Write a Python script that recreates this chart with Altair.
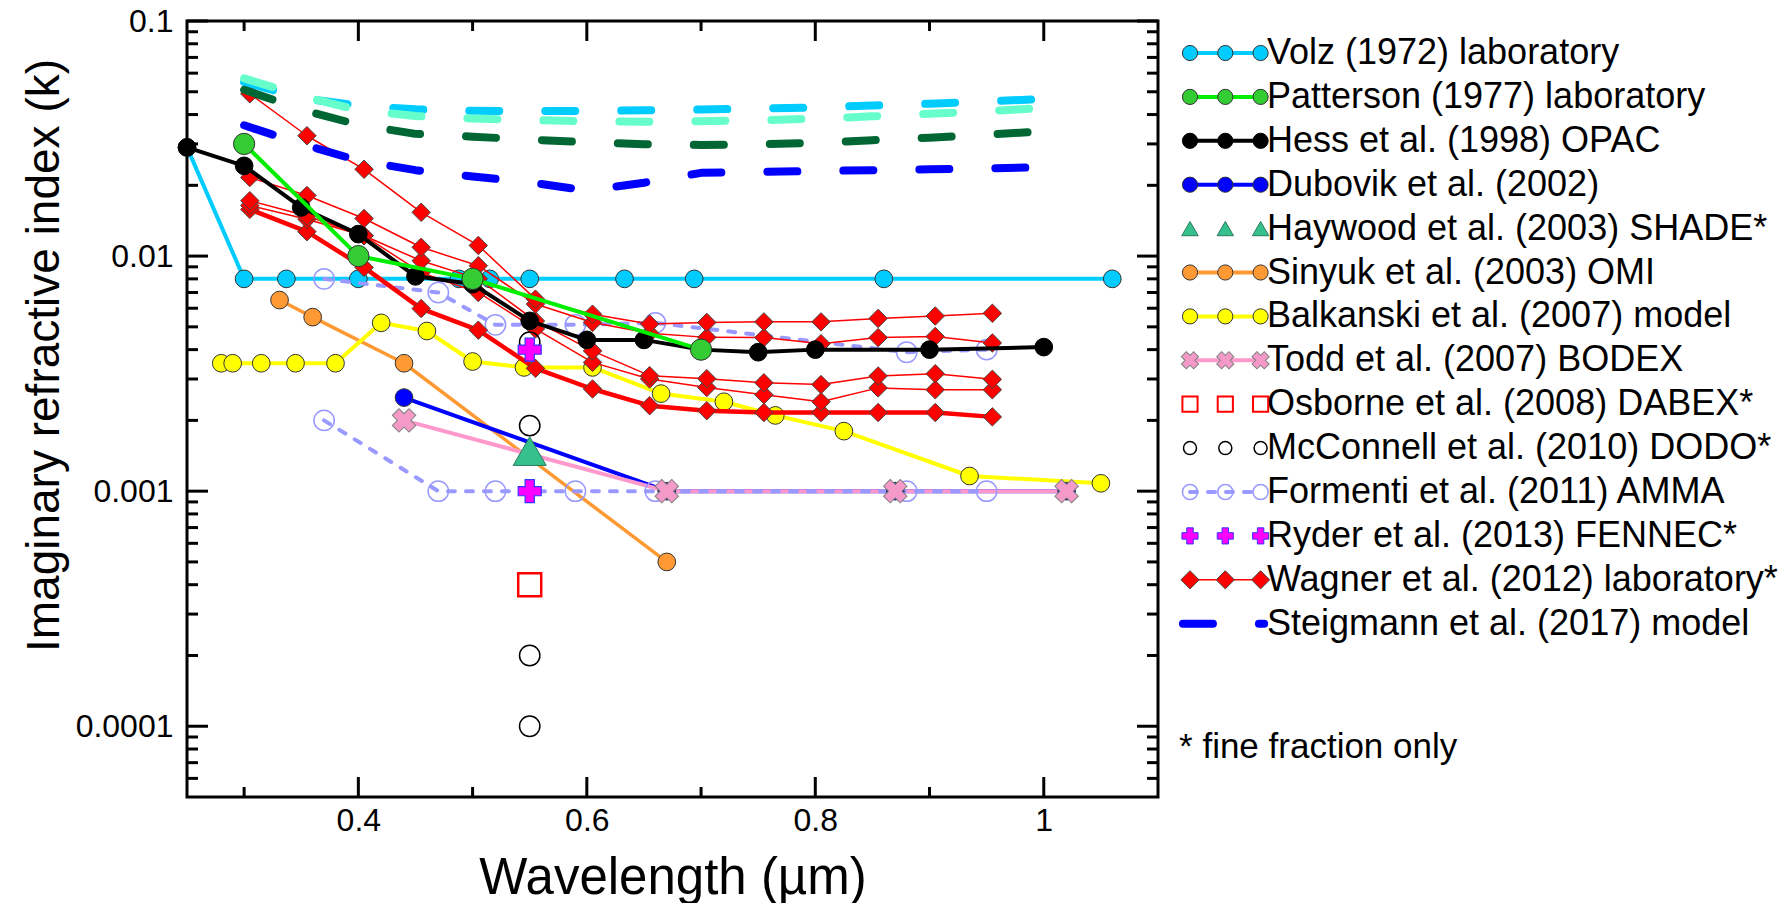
import altair as alt
import pandas as pd

# ------------------------------------------------------------------
# Values (wavelength in µm, k)
# ------------------------------------------------------------------
volz_w = [0.25, 0.30, 0.337, 0.40, 0.488, 0.515, 0.55, 0.633, 0.694, 0.86, 1.06]
volz_k = [0.029, 0.008, 0.008, 0.008, 0.008, 0.008, 0.008, 0.008, 0.008, 0.008, 0.008]

patterson_w = [0.30, 0.40, 0.50, 0.70]
patterson_k = [0.030, 0.0100, 0.0080, 0.0040]

hess_w = [0.25, 0.30, 0.35, 0.40, 0.45, 0.50, 0.55, 0.60, 0.65, 0.70, 0.75, 0.80, 0.90, 1.00]
hess_k = [0.029, 0.0242, 0.0161, 0.0124, 0.0082, 0.0076, 0.0053, 0.0044, 0.0044,
          0.0040, 0.0039, 0.0040, 0.0040, 0.0041]

dubovik_w = [0.44, 0.67, 0.87, 1.02]
dubovik_k = [0.0025, 0.0010, 0.0010, 0.0010]

haywood_w = [0.55]
haywood_k = [0.00148]

sinyuk_w = [0.331, 0.36, 0.44, 0.67]
sinyuk_k = [0.0065, 0.0055, 0.0035, 0.0005]

balkanski_w = [0.28, 0.29, 0.315, 0.345, 0.38, 0.42, 0.46, 0.50, 0.545, 0.605,
               0.665, 0.72, 0.765, 0.825, 0.935, 1.05]
balkanski_k = [0.0035, 0.0035, 0.0035, 0.0035, 0.0035, 0.0052, 0.0048, 0.00356, 0.00336,
               0.00336, 0.0026, 0.0024, 0.0021, 0.0018, 0.00116, 0.00108]

todd_w = [0.44, 0.67, 0.87, 1.02]
todd_k = [0.0020, 0.0010, 0.0010, 0.0010]

osborne_w = [0.55]
osborne_k = [0.0004]

mcconnell_w = [0.55, 0.55, 0.55, 0.55]
mcconnell_k = [0.0043, 0.0019, 0.0002, 0.0001]

formenti_w = [0.37, 0.47, 0.52, 0.59, 0.66, 0.88, 0.95]
formenti_upper_k = [0.0080, 0.0070, 0.0051, 0.0051, 0.0052, 0.0039, 0.0040]
formenti_lower_k = [0.0020, 0.0010, 0.0010, 0.0010, 0.0010, 0.0010, 0.0010]

ryder_w = [0.55, 0.55]
ryder_k = [0.0040, 0.0010]

wagner_w = [0.305, 0.355, 0.405, 0.455, 0.505, 0.555, 0.605, 0.655, 0.705,
            0.755, 0.805, 0.855, 0.905, 0.955]
wagner_1_k = [0.049, 0.0325, 0.0234, 0.01535, 0.0111, 0.00656, 0.00566, 0.00514, 0.00522,
              0.00525, 0.00525, 0.00543, 0.00556, 0.00571]
wagner_2_k = [0.0216, 0.0181, 0.01445, 0.0109, 0.0091, 0.00625, 0.00522, 0.0047, 0.00451,
              0.0045, 0.00424, 0.0045, 0.00455, 0.00427]
wagner_3_k = [0.0172, 0.0148, 0.0122, 0.00955, 0.0080, 0.0053, 0.00395, 0.0031, 0.00301,
              0.00289, 0.00284, 0.00309, 0.00316, 0.00299]
wagner_4_k = [0.0164, 0.01435, 0.0122, 0.0085, 0.0070, 0.0049, 0.00353, 0.0030, 0.00276,
              0.00257, 0.0024, 0.00275, 0.0027, 0.0027]
wagner_5_k = [0.0158, 0.0127, 0.00895, 0.00598, 0.00484, 0.00333, 0.00272, 0.00231, 0.0022,
              0.00216, 0.00216, 0.00216, 0.00216, 0.00207]

steigmann_w = [0.30, 0.35, 0.40, 0.45, 0.50, 0.55, 0.60, 0.65, 0.70, 0.75, 0.80, 0.85,
               0.90, 0.95, 1.00]
steigmann_a_k = [0.055, 0.047, 0.0436, 0.0421, 0.0415, 0.0414, 0.0414, 0.0417, 0.0420,
                 0.0424, 0.0429, 0.0437, 0.0445, 0.0455, 0.0466]
steigmann_b_k = [0.057, 0.048, 0.0418, 0.0394, 0.0385, 0.0379, 0.0375, 0.0373, 0.0375,
                 0.0378, 0.0384, 0.0393, 0.0403, 0.0414, 0.0426]
steigmann_c_k = [0.051, 0.042, 0.0362, 0.0331, 0.0322, 0.0313, 0.0305, 0.0299, 0.0297,
                 0.0299, 0.0303, 0.0311, 0.0319, 0.0328, 0.0340]
steigmann_d_k = [0.036, 0.030, 0.0255, 0.0232, 0.0218, 0.0206, 0.0190, 0.0205, 0.0226,
                 0.0228, 0.0230, 0.0232, 0.0234, 0.0236, 0.0239]

x_tick_major = [0.4, 0.6, 0.8, 1.0]
x_tick_minor = [0.3, 0.5, 0.7, 0.9]
y_tick_major = [1e-4, 1e-3, 1e-2, 1e-1]
y_tick_minor = [m * 10.0 ** e for e in (-5, -4, -3, -2) for m in range(2, 10)
                if 5e-5 < m * 10.0 ** e < 0.1]

legend_labels = [
    "Volz (1972) laboratory",
    "Patterson (1977) laboratory",
    "Hess et al. (1998) OPAC",
    "Dubovik et al. (2002)",
    "Haywood et al. (2003) SHADE*",
    "Sinyuk et al. (2003) OMI",
    "Balkanski et al. (2007) model",
    "Todd et al. (2007) BODEX",
    "Osborne et al. (2008) DABEX*",
    "McConnell et al. (2010) DODO*",
    "Formenti et al. (2011) AMMA",
    "Ryder et al. (2013) FENNEC*",
    "Wagner et al. (2012) laboratory*",
    "Steigmann et al. (2017) model",
]
footnote = "* fine fraction only"

# ------------------------------------------------------------------
# Layout / style
# ------------------------------------------------------------------
FONT = "Liberation Sans"
W, H = 971, 776
PAD = {"left": 187, "top": 21, "right": 1790 - 187 - W, "bottom": 903 - 21 - H}

XS = alt.Scale(domain=[0.25, 1.1], nice=False, zero=False)
YS = alt.Scale(type="log", domain=[5e-5, 0.1], nice=False)

# title positions are relative to each axis line
x_axis = alt.Axis(values=x_tick_major, format="~g", title="Wavelength (µm)", ticks=False,
                  domain=False, grid=False, labelFontSize=32, labelFont=FONT,
                  labelColor="black", labelPadding=8, labelFlush=False, labelOverlap=False,
                  titleFontSize=51, titleFont=FONT, titleFontWeight="normal",
                  titleColor="black", titleBaseline="alphabetic", titleY=96)
y_axis = alt.Axis(values=y_tick_major, format="~g", title="Imaginary refractive index (k)",
                  ticks=False, domain=False, grid=False, labelFontSize=32,
                  labelFont=FONT, labelColor="black", labelPadding=14, labelFlush=False,
                  labelOverlap=False, titleFontSize=46, titleFont=FONT,
                  titleFontWeight="normal", titleColor="black", titleBaseline="alphabetic",
                  titleX=-129, titleY=334)


def frame(w, k):
    return pd.DataFrame({"w": w, "k": k})


def X(field="w"):
    return alt.X(f"{field}:Q", scale=XS, axis=x_axis)


def Y(field="k"):
    return alt.Y(f"{field}:Q", scale=YS, axis=y_axis)


def line(w, k, color, width, dash=None, cap="butt"):
    kw = dict(color=color, strokeWidth=width, strokeCap=cap, strokeJoin="round")
    if dash:
        kw["strokeDash"] = dash
    return alt.Chart(frame(w, k)).mark_line(**kw).encode(x=X(), y=Y())


def points(w, k, shape, size, fill=None, stroke=None, sw=1.0, angle=0):
    kw = dict(shape=shape, size=size, opacity=1, strokeWidth=sw)
    if fill:
        kw.update(filled=True, fill=fill)
    else:
        kw.update(filled=False)
    if stroke:
        kw["stroke"] = stroke
    if angle:
        kw["angle"] = angle
    return alt.Chart(frame(w, k)).mark_point(**kw).encode(x=X(), y=Y())


OUT = "#333333"
layers = []
# Volz
layers += [line(volz_w, volz_k, "#00CCFF", 4),
           points(volz_w, volz_k, "circle", 314, fill="#00CCFF", stroke=OUT)]
# Sinyuk
layers += [line(sinyuk_w, sinyuk_k, "#FF9933", 3.5),
           points(sinyuk_w, sinyuk_k, "circle", 314, fill="#FF9933", stroke=OUT)]
# Balkanski
layers += [line(balkanski_w, balkanski_k, "#FFFF00", 4),
           points(balkanski_w, balkanski_k, "circle", 314, fill="#FFFF00", stroke=OUT)]
# Dubovik / Todd / Formenti
layers += [line(dubovik_w, dubovik_k, "#0000FF", 4),
           line(todd_w, todd_k, "#FF99CC", 4),
           line(formenti_w, formenti_upper_k, "#9999FF", 4, dash=[7, 11], cap="round"),
           line(formenti_w, formenti_lower_k, "#9999FF", 4, dash=[7, 11], cap="round"),
           points(dubovik_w, dubovik_k, "circle", 314, fill="#0000FF", stroke=OUT),
           points(formenti_w, formenti_upper_k, "circle", 415, stroke="#9999FF", sw=1.5),
           points(formenti_w, formenti_lower_k, "circle", 415, stroke="#9999FF", sw=1.5),
           points(todd_w, todd_k, "cross", 560, fill="#F59AC8", stroke="#808080", sw=1, angle=45)]
# Wagner
for kk, wd in [(wagner_5_k, 4.5), (wagner_4_k, 1.5), (wagner_3_k, 1.5),
               (wagner_2_k, 1.5), (wagner_1_k, 1.5)]:
    layers.append(line(wagner_w, kk, "#FF0000", wd))
for kk in [wagner_5_k, wagner_4_k, wagner_3_k, wagner_2_k, wagner_1_k]:
    layers.append(points(wagner_w, kk, "diamond", 340, fill="#FF0000", stroke="#444444"))
# Steigmann
for kk, col in [(steigmann_a_k, "#00CCFF"), (steigmann_b_k, "#66FFCC"),
                (steigmann_c_k, "#006633"), (steigmann_d_k, "#0000FF")]:
    layers.append(line(steigmann_w, kk, col, 8, dash=[30, 46], cap="round"))
# Hess, Patterson
layers += [line(hess_w, hess_k, "#000000", 4),
           points(hess_w, hess_k, "circle", 314, fill="#000000", stroke="#000000"),
           line(patterson_w, patterson_k, "#00EE00", 4),
           points(patterson_w, patterson_k, "circle", 452, fill="#33CC33", stroke=OUT)]
# single-wavelength measurements
layers += [points(mcconnell_w, mcconnell_k, "circle", 415, stroke="#000000", sw=1.5),
           points(haywood_w, haywood_k, "triangle-up", 1089, fill="#36C08E", stroke="#2A7A5C"),
           points(osborne_w, osborne_k, "square", 529, stroke="#FF0000", sw=2.5),
           points(ryder_w, ryder_k, "cross", 529, fill="#FF00FF", stroke="#3333FF", sw=1.2)]

# ---- inward tick marks (positions from the scales) ----
RULE = dict(color="black", strokeWidth=3)


def yticks(vals, x0, x1):
    return alt.Chart(pd.DataFrame({"t": vals})).mark_rule(**RULE).encode(
        y=Y("t"), x=alt.value(x0), x2=alt.value(x1))


def xticks(vals, y0, y1):
    return alt.Chart(pd.DataFrame({"t": vals})).mark_rule(**RULE).encode(
        x=X("t"), y=alt.value(y0), y2=alt.value(y1))


layers += [yticks(y_tick_major, 0, 21), yticks(y_tick_minor, 0, 11),
           yticks(y_tick_major, W, W - 21), yticks(y_tick_minor, W, W - 11),
           xticks(x_tick_major, H, H - 20), xticks(x_tick_minor, H, H - 10),
           xticks(x_tick_major, 0, 20), xticks(x_tick_minor, 0, 10)]

main = alt.layer(*layers)

# ------------------------------------------------------------------
# Legend (own scales, placed to the right of the plot area)
# ------------------------------------------------------------------
UNIT = 35.3                 # px per legend x unit
MARK0 = 1190 - 187          # px (from plot left) of the first legend marker
ROW = 43.9                  # px per legend row
ROW0 = 32.0                 # px (from plot top) of the first row
LXS = alt.Scale(domain=[-MARK0 / UNIT, (W - MARK0) / UNIT], nice=False, zero=False)
LYS = alt.Scale(domain=[-ROW0 / ROW, (H - ROW0) / ROW], nice=False, zero=False, reverse=True)


def LX():
    return alt.X("u:Q", scale=LXS, axis=None)


def LY():
    return alt.Y("v:Q", scale=LYS, axis=None)


legend_style = [
    dict(line=("#00CCFF", 4, None), mk=("circle", 230, "#00CCFF", OUT, 1, 0)),
    dict(line=("#00EE00", 4, None), mk=("circle", 230, "#33CC33", OUT, 1, 0)),
    dict(line=("#000000", 4, None), mk=("circle", 230, "#000000", "#000000", 1, 0)),
    dict(line=("#0000FF", 4, None), mk=("circle", 230, "#0000FF", OUT, 1, 0)),
    dict(line=None, mk=("triangle-up", 270, "#36C08E", "#2A7A5C", 1, 0)),
    dict(line=("#FF9933", 4, None), mk=("circle", 230, "#FF9933", OUT, 1, 0)),
    dict(line=("#FFFF00", 4, None), mk=("circle", 230, "#FFFF00", OUT, 1, 0)),
    dict(line=("#FF99CC", 4, None), mk=("cross", 300, "#F59AC8", "#808080", 1, 45)),
    dict(line=None, mk=("square", 230, None, "#FF0000", 2, 0)),
    dict(line=None, mk=("circle", 170, None, "#000000", 1.5, 0)),
    dict(line=("#9999FF", 4, [7, 11]), mk=("circle", 230, None, "#9999FF", 1.5, 0)),
    dict(line=None, mk=("cross", 260, "#FF00FF", "#3333FF", 1, 0)),
    dict(line=("#FF0000", 1.5, None), mk=("diamond", 330, "#FF0000", "#444444", 1, 0)),
    dict(line=("#0000FF", 8, [30, 46]), mk=None),
]

leg_layers = []
for i, st in enumerate(legend_style):
    if st["line"]:
        col, wd, dash = st["line"]
        kw = dict(color=col, strokeWidth=wd)
        ends = [0, 2]
        if dash:
            kw.update(strokeDash=dash, strokeCap="round")
            if st["mk"] is None:
                ends = [-0.2, 2.1]
        leg_layers.append(alt.Chart(pd.DataFrame({"u": ends, "v": [i, i]}))
                          .mark_line(**kw).encode(x=LX(), y=LY()))
    if st["mk"]:
        shape, size, fill, stroke, sw, ang = st["mk"]
        kw = dict(shape=shape, size=size, opacity=1, strokeWidth=sw, stroke=stroke)
        if fill:
            kw.update(filled=True, fill=fill)
        else:
            kw.update(filled=False)
        if ang:
            kw["angle"] = ang
        leg_layers.append(alt.Chart(pd.DataFrame({"u": [0, 1, 2], "v": [i] * 3}))
                          .mark_point(**kw).encode(x=LX(), y=LY()))

leg_text = pd.DataFrame({"u": [2.18] * len(legend_labels),
                         "v": list(range(len(legend_labels))),
                         "label": legend_labels})
leg_layers.append(alt.Chart(leg_text).mark_text(
    align="left", baseline="middle", font=FONT, fontSize=36, color="black")
    .encode(x=LX(), y=LY(), text="label:N"))
leg_layers.append(alt.Chart(pd.DataFrame({"u": [-0.31], "v": [15.8], "label": [footnote]}))
                  .mark_text(align="left", baseline="middle", font=FONT, fontSize=35,
                             color="black")
                  .encode(x=LX(), y=LY(), text="label:N"))

legend = alt.layer(*leg_layers)

chart = (alt.layer(main, legend)
         .resolve_scale(x="independent", y="independent")
         .properties(width=W, height=H, padding=PAD,
                     autosize=alt.AutoSizeParams(type="none"), background="white")
         .configure(font=FONT)
         .configure_view(stroke="black", strokeWidth=3))

chart.save("out.html", embed_options={"renderer": "svg", "actions": False})
